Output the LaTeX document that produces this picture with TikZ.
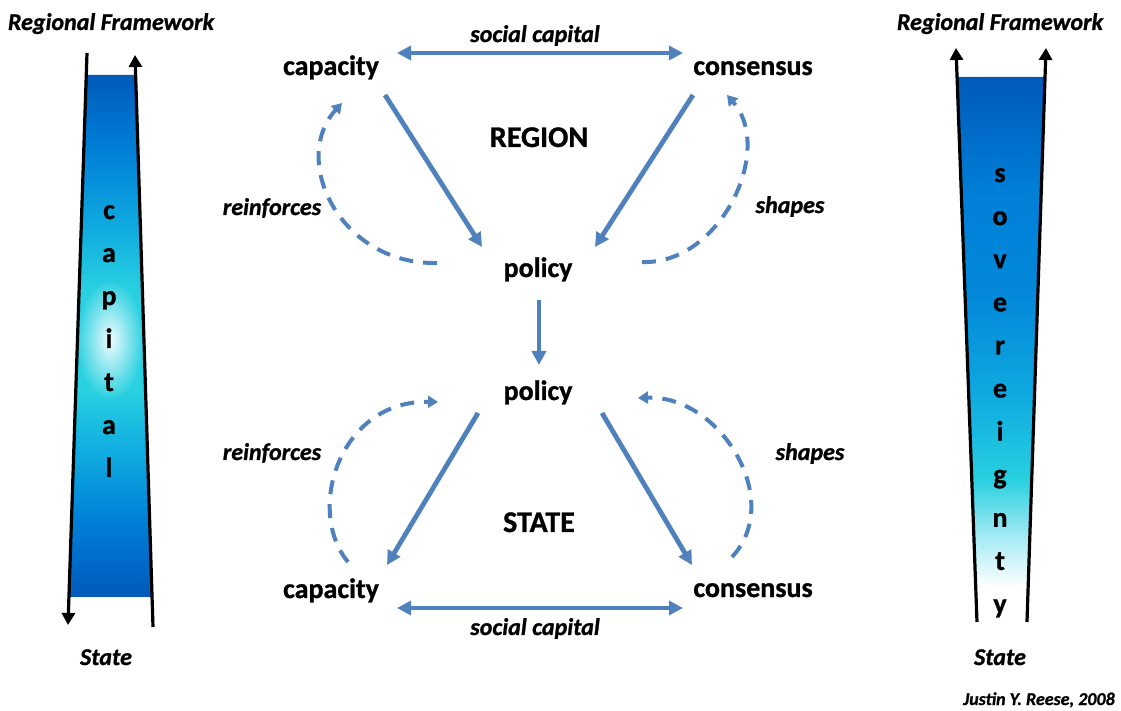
\documentclass[tikz,border=0pt]{standalone}
\usepackage{fontspec}
\setmainfont{Carlito}[BoldFeatures={FakeBold=1}, BoldItalicFeatures={FakeBold=1}]
\usetikzlibrary{arrows.meta}
\usetikzlibrary{calc}
\usetikzlibrary{fadings}
\definecolor{arrowblue}{RGB}{79,129,189}
\definecolor{bdark}{RGB}{0,90,186}
\definecolor{bmid}{RGB}{0,128,216}
\definecolor{blight}{RGB}{16,172,224}
\definecolor{bcyan}{RGB}{40,208,224}
\definecolor{bglow}{RGB}{240,252,254}
\definecolor{bpale}{RGB}{170,236,244}
\pgfdeclareverticalshading{capshade}{100bp}{color(0bp)=(bdark); color(25bp)=(bdark); color(32.4bp)=(bmid); color(39bp)=(blight); color(44.8bp)=(bcyan); color(54.4bp)=(bcyan); color(60.2bp)=(blight); color(67.8bp)=(bmid); color(75bp)=(bdark); color(100bp)=(bdark)}
\pgfdeclareverticalshading{sovshade}{100bp}{color(0bp)=(white); color(25bp)=(white); color(28bp)=(white); color(32.4bp)=(bpale); color(38bp)=(bcyan); color(45bp)=(blight); color(54.5bp)=(bmid!80!blight); color(64bp)=(bmid); color(75bp)=(bdark); color(100bp)=(bdark)}
\tikzfading[name=glowfade, inner color=transparent!0, outer color=transparent!100]
\tikzset{
    mynode/.style = {anchor=base, inner sep=1pt, font=\fontsize{14}{16}\selectfont\bfseries, text=black},
    mynodebig/.style = {anchor=base, inner sep=1pt, font=\fontsize{15}{18}\selectfont\bfseries, text=black},
    mylabel/.style = {anchor=base, inner sep=1pt, font=\fontsize{12}{14}\selectfont\bfseries\itshape, text=black},
    mycredit/.style = {anchor=base, inner sep=1pt, font=\fontsize{9}{11}\selectfont\bfseries\itshape, text=black},
    myletter/.style = {anchor=base, inner sep=0pt, font=\fontsize{14}{16}\selectfont\bfseries, text=black},
    edgeb/.style = {->, line width=2.4pt, draw=arrowblue},
    edgebb/.style = {<->, line width=2.4pt, draw=arrowblue},
    edgebd/.style = {-{Triangle[length=5pt,width=6pt]}, line width=2pt, draw=arrowblue, dash pattern=on 7pt off 5pt}, % feedback
    edgek/.style = {-{Triangle[length=6pt,width=6.5pt]}, line width=1.6pt, black}
}

\begin{document}
\begin{tikzpicture}[x=0.5pt, y=-0.5pt, >={Triangle[length=7pt,width=7pt]}]
  \useasboundingbox (0,0) rectangle (1121,711);

  % left bar
  \shade[shading=capshade] (86,75) -- (136,75) -- (152,597) -- (69,597) -- cycle;
  \fill[bglow, path fading=glowfade] (110,340) ellipse [x radius=34, y radius=60];
  \draw[edgek] (87,53) -- (68,625);
  \draw[edgek] (153,627) -- (135,55);
  \foreach \l [count=\i from 0] in {c,a,p,i,t,a,l}
    \node[myletter] (capl\i) at (109,219+43*\i) {\l};
  \node[mylabel] (rfL) at (111,30) {Regional Framework};
  \node[mylabel] (stL) at (106,665) {State};

  % right bar
  \shade[shading=sovshade] (957,77) -- (1045,77) -- (1027,620) -- (977,620) -- cycle;
  \draw[edgek] (977,622) -- (956,48);
  \draw[edgek] (1027,622) -- (1046,48);
  \foreach \l [count=\i from 0] in {s,o,v,e,r,e,i,g,n,t,y}
    \node[myletter] (sovl\i) at (1000,182+43.1*\i) {\l};
  \node[mylabel] (rfR) at (1000,30) {Regional Framework};
  \node[mylabel] (stR) at (1000,665) {State};
  \node[mycredit] (credit) at (1039,705) {Justin Y. Reese, 2008};

  % region
  \node[mynode] (capT) at (331,75) {capacity};
  \node[mynode] (conT) at (753,75) {consensus};
  \node[mynode] (polT) at (538,277) {policy};
  \node[mynodebig] (region) at (539,147) {REGION};
  \node[mylabel] (scT) at (535,42) {social capital};
  \node[mylabel] (reinT) at (272,215) {reinforces};
  \node[mylabel] (shpT) at (790,213) {shapes};

  % state
  \node[mynode] (polB) at (538,400) {policy};
  \node[mynodebig] (state) at (539,532) {STATE};
  \node[mynode] (capB) at (331,598) {capacity};
  \node[mynode] (conB) at (753,597) {consensus};
  \node[mylabel] (scB) at (535,635) {social capital};
  \node[mylabel] (reinB) at (272,460) {reinforces};
  \node[mylabel] (shpB) at (810,460) {shapes};

  \draw[edgebb] ($(capT.base)+(66,-22)$) -- ($(conT.base)+(-70,-22)$);
  \draw[edgeb] ($(capT.base)+(54,20)$) -- ($(polT.base)+(-56,-30)$);
  \draw[edgeb] ($(conT.base)+(-60,20)$) -- ($(polT.base)+(57,-30)$);
  \draw[edgeb] ($(polT.base)+(1,23)$) -- ($(polB.base)+(1,-35)$);
  \draw[edgeb] ($(polB.base)+(-60,13)$) -- ($(capB.base)+(56,-33)$);
  \draw[edgeb] ($(polB.base)+(64,13)$) -- ($(conB.base)+(-61,-32)$);
  \draw[edgebb] ($(capB.base)+(66,10)$) -- ($(conB.base)+(-70,11)$);

  \draw[edgebd] ($(polT.base)+(-101,-14)$) .. controls +(-97,2) and +(-52,57) .. ($(capT.base)+(11,28)$);
  \draw[edgebd] ($(polT.base)+(104,-15)$) .. controls +(78,3) and +(48,55) .. ($(conT.base)+(-26,20)$);
  \draw[edgebd] ($(capB.base)+(17,-36)$) .. controls +(-43,-52) and +(-98,-2) .. ($(polB.base)+(-100,2)$);
  \draw[edgebd] ($(conB.base)+(-21,-40)$) .. controls +(53,-57) and +(82,-3) .. ($(polB.base)+(100,-2)$);
\end{tikzpicture}
\end{document}
